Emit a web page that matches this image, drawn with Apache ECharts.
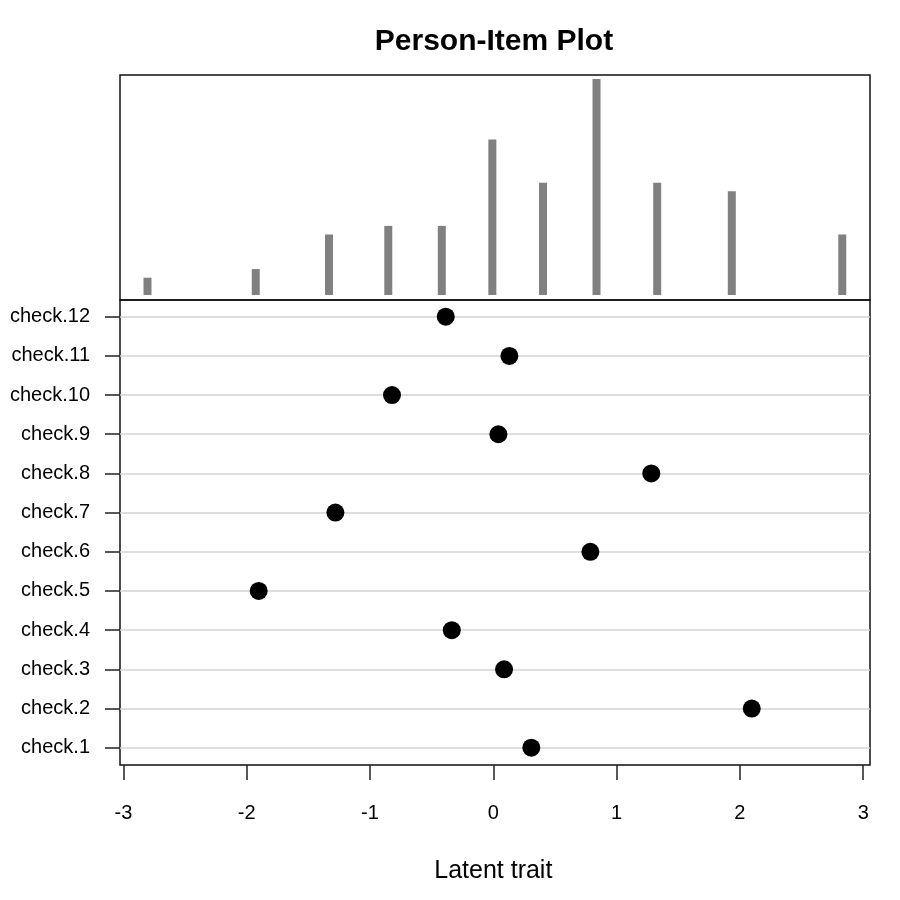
<!DOCTYPE html>
<html>
<head>
<meta charset="utf-8">
<script src="https://cdn.jsdelivr.net/npm/echarts@6/dist/echarts.min.js"></script>
<style>html,body{margin:0;padding:0;background:#fff}#c{width:900px;height:900px}</style>
</head>
<body>
<div id="c"></div>
<script>
// Person distribution (histogram of person parameters)
const personLocations = [-2.805, -1.927, -1.333, -0.852, -0.418, -0.008, 0.403, 0.837, 1.329, 1.934, 2.830];
const personCounts    = [2, 3, 7, 8, 8, 18, 13, 25, 13, 12, 7];
// Item locations
const itemNames  = ['check.1','check.2','check.3','check.4','check.5','check.6','check.7','check.8','check.9','check.10','check.11','check.12'];
const itemValues = [0.308, 2.096, 0.087, -0.337, -1.903, 0.787, -1.281, 1.281, 0.041, -0.822, 0.130, -0.386];
// Axis ticks
const xTicks = [-3, -2, -1, 0, 1, 2, 3];

const FONT = 'Liberation Sans';
const XMIN = -3.028, XMAX = 3.055;

const chart = echarts.init(document.getElementById('c'), null, {renderer: 'canvas'});
const option = {
  animation: false,
  backgroundColor: '#fff',
  title: {
    text: 'Person-Item Plot', left: 489, textAlign: 'center', top: 22,
    textStyle: {fontFamily: FONT, fontSize: 30, fontWeight: 'bold', color: '#000'}
  },
  grid: [
    {left: 120, top: 75, width: 750, height: 225, show: true, borderColor: '#111', borderWidth: 1.5, backgroundColor: 'transparent'},
    {left: 120, top: 300, width: 750, height: 465, show: true, borderColor: '#111', borderWidth: 1.5, backgroundColor: 'transparent'},
    {left: 123.4, top: 316.7, width: 739.8, height: 431},
    {left: 120, top: 316.7, width: 750, height: 431}
  ],
  xAxis: [
    {gridIndex: 0, type: 'value', min: XMIN, max: XMAX, show: false},
    {gridIndex: 1, type: 'value', min: XMIN, max: XMAX, show: false},
    {gridIndex: 2, type: 'value', min: xTicks[0], max: xTicks[xTicks.length-1], interval: 1, position: 'bottom', offset: 17.3,
      axisLine: {show: false, onZero: false}, splitLine: {show: false},
      axisTick: {show: true, length: 15, inside: false, lineStyle: {color: '#222', width: 1.5}},
      axisLabel: {show: true, margin: 38, fontFamily: FONT, fontSize: 20, color: '#000'},
      name: 'Latent trait', nameLocation: 'middle', nameGap: 94,
      nameTextStyle: {fontFamily: FONT, fontSize: 25, color: '#000'}
    },
    {gridIndex: 3, type: 'value', min: XMIN, max: XMAX, show: false}
  ],
  yAxis: [
    {gridIndex: 0, type: 'value', min: -0.58, max: 25.46, show: false},
    {gridIndex: 1, type: 'value', min: 0, max: 1, show: false},
    {gridIndex: 2, type: 'value', min: 1, max: 12, show: false},
    {gridIndex: 3, type: 'value', min: 1, max: 12, interval: 1, position: 'left',
      axisLine: {show: false, onZero: false},
      axisTick: {show: true, length: 15, inside: false, lineStyle: {color: '#222', width: 1.5}},
      axisLabel: {show: true, margin: 30, fontFamily: FONT, fontSize: 20, color: '#000',
        formatter: v => itemNames[Math.round(v) - 1] || ''},
      splitLine: {show: true, lineStyle: {color: '#d3d3d3', width: 1.5}}
    }
  ],
  series: [
    {
      type: 'bar', xAxisIndex: 0, yAxisIndex: 0, barWidth: 8,
      itemStyle: {color: '#808080'},
      data: personLocations.map((x, i) => [x, personCounts[i]])
    },
    {
      type: 'scatter', xAxisIndex: 3, yAxisIndex: 3, symbol: 'circle', symbolSize: 18,
      itemStyle: {color: '#000', opacity: 1},
      data: itemValues.map((v, i) => [v, i + 1])
    }
  ]
};
chart.setOption(option);
</script>
</body>
</html>
